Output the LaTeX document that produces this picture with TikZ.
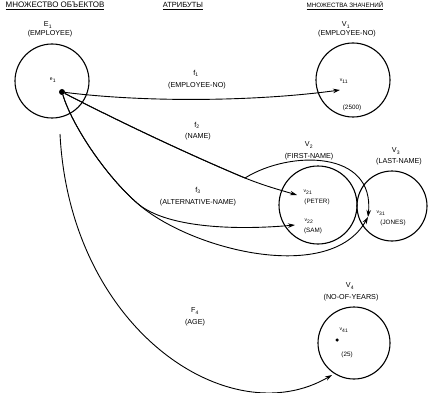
\documentclass[tikz,border=0pt]{standalone}
\usepackage{fontspec}
\setmainfont{Liberation Sans}
\usetikzlibrary{arrows.meta}
\begin{document}
\begin{tikzpicture}[x=1pt,y=-1pt,
  lbl/.style={inner sep=0pt,font=\fontsize{7.2}{8}\selectfont},
  head/.style={inner sep=0pt,font=\fontsize{8}{9}\selectfont},
  sml/.style={inner sep=0pt,font=\fontsize{5}{6}\selectfont},
  val/.style={inner sep=0pt,font=\fontsize{6.3}{7}\selectfont},
  setc/.style={draw,circle,line width=1.1pt,inner sep=0pt},
  conn/.style={line width=0.9pt},
  arr/.style={conn,-{Stealth[length=7pt,width=4.5pt]}}]
\useasboundingbox (0,0) rectangle (428,393);
% headings
\node[head] (h1) at (55,6) {\underline{МНОЖЕСТВО ОБЪЕКТОВ}};
\node[head,font=\fontsize{7.5}{9}\selectfont] (h2) at (183,6) {\underline{АТРИБУТЫ}};
\node[head,font=\fontsize{6.3}{8}\selectfont] (h3) at (345,6) {\underline{МНОЖЕСТВА ЗНАЧЕНИЙ}};
% E1
\node[lbl] (E1l) at (48,25) {E\textsubscript{1}};
\node[lbl] (E1n) at (50,34) {(EMPLOYEE)};
\node[setc,minimum size=74pt] (E1) at (52,81) {};
\node[circle,fill,inner sep=0pt,minimum size=6pt] (e) at (62,92) {};
\node[sml] (el) at (53,80) {e\textsubscript{1}};
% V1
\node[lbl] (V1l) at (346,25) {V\textsubscript{1}};
\node[lbl] (V1n) at (347,34) {(EMPLOYEE-NO)};
\node[setc,minimum size=74pt] (V1) at (353,80) {};
\coordinate (v11) at (340,90);
\node[sml] (v11l) at (344,81) {v\textsubscript{11}};
\node[val] (v11n) at (352,108) {(2500)};
% V2
\node[lbl] (V2l) at (309,145) {V\textsubscript{2}};
\node[lbl] (V2n) at (309,157) {(FIRST-NAME)};
\node[setc,minimum size=78pt] (V2) at (318,205) {};
\coordinate (v21) at (297,195);
\node[sml] (v21l) at (308,192) {v\textsubscript{21}};
\node[val] (v21n) at (317,202) {(PETER)};
\coordinate (v22) at (295,225);
\node[sml] (v22l) at (309,221) {v\textsubscript{22}};
\node[val] (v22n) at (313,231) {(SAM)};
% V3
\node[lbl] (V3l) at (396,151) {V\textsubscript{3}};
\node[lbl] (V3n) at (399,162) {(LAST-NAME)};
\node[setc,minimum size=70pt] (V3) at (392,206) {};
\coordinate (v31) at (368,217);
\node[sml] (v31l) at (381,213) {v\textsubscript{31}};
\node[val] (v31n) at (393,223) {(JONES)};
% V4
\node[lbl] (V4l) at (350,286) {V\textsubscript{4}};
\node[lbl] (V4n) at (351,298) {(NO-OF-YEARS)};
\node[setc,minimum size=72pt] (V4) at (354,343) {};
\node[circle,fill,inner sep=0pt,minimum size=3.5pt] (v41) at (337,340) {};
\node[sml] (v41l) at (344,330) {v\textsubscript{41}};
\node[val] (v41n) at (347,355) {(25)};
% attribute labels
\node[lbl] (f1l) at (196,73) {f\textsubscript{1}};
\node[lbl] (f1n) at (197,86) {(EMPLOYEE-NO)};
\node[lbl] (f2l) at (197,125) {f\textsubscript{2}};
\node[lbl] (f2n) at (198,137) {(NAME)};
\node[lbl] (f3l) at (198,190) {f\textsubscript{3}};
\node[lbl] (f3n) at (198,203) {(ALTERNATIVE-NAME)};
\node[lbl] (f4l) at (195,311) {F\textsubscript{4}};
\node[lbl] (f4n) at (195,323) {(AGE)};
% connectors
\coordinate (s2) at (245,178);
\coordinate (s3) at (137,203);
\coordinate (f4s) at (60,134);
\draw[arr] (e) .. controls (150,103) and (260,101) .. (v11);
\draw[arr] (e) .. controls (120,122) and (190,155) .. (s2) .. controls (265,186) and (280,190) .. (v21);
\draw[arr] (e) .. controls (120,122) and (190,155) .. (s2) .. controls (290,150) and (375,150) .. (v31);
\draw[arr] (e) .. controls (72,125) and (105,175) .. (s3) .. controls (167,229) and (240,230) .. (v22);
\draw[arr] (e) .. controls (72,125) and (105,175) .. (s3) .. controls (190,250) and (330,285) .. (v31);
\draw[arr] (f4s) .. controls (70,330) and (230,435) .. (332,375);
\end{tikzpicture}
\end{document}
